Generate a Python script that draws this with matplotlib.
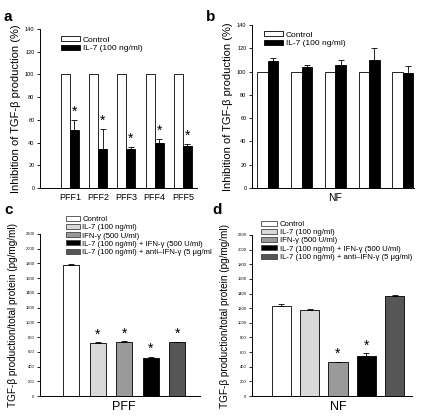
import matplotlib
matplotlib.use("Agg")
import matplotlib.pyplot as plt
from matplotlib.transforms import Bbox, TransformedBbox

plt.rcParams['font.family'] = ['Liberation Sans', 'DejaVu Sans']

# ---- data ----
a_groups = ["PFF1", "PFF2", "PFF3", "PFF4", "PFF5"]
a_control = [100, 100, 100, 100, 100]
a_il7 = [51, 34, 34, 40, 37]
a_il7_err = [9, 18, 2, 3, 2]

b_control = [100, 100, 100, 100, 100]
b_il7 = [109, 104, 106, 110, 99]
b_il7_err = [3, 2, 4, 10, 6]

ab_labels = ["Control", "IL-7 (100 ng/ml)"]

cd_labels = ["Control", "IL-7 (100 ng/ml)", "IFN-γ (500 U/ml)",
             "IL-7 (100 ng/ml) + IFN-γ (500 U/ml)",
             "IL-7 (100 ng/ml) + anti–IFN-γ (5 μg/ml)"]
c_values = [1780, 720, 740, 520, 730]
c_err = [6, 8, 6, 10, 10]
c_sig = [False, True, True, True, True]
d_values = [1230, 1175, 460, 550, 1370]
d_err = [30, 20, 6, 35, 10]
d_sig = [False, False, True, True, False]

cd_colors = ["white", "#d9d9d9", "#9a9a9a", "black", "#565656"]

W, H = 425, 416
fig = plt.figure(figsize=(W / 100, H / 100), dpi=100)


def ax_px(l, t, r, b):
    return fig.add_axes([l / W, 1 - b / H, (r - l) / W, (b - t) / H])


def style(ax, ymax, step, tfs):
    ax.spines['top'].set_visible(False)
    ax.spines['right'].set_visible(False)
    for s in ['left', 'bottom']:
        ax.spines[s].set_linewidth(0.7)
    ax.set_ylim(0, ymax)
    ax.set_yticks(range(0, ymax + 1, step))
    ax.tick_params(axis='y', labelsize=tfs, length=2.5, width=0.6, pad=1.5, direction='out')
    ax.tick_params(axis='x', length=0)


ylab_ab = "Inhibition of TGF-β production (%)"
ylab_cd = "TGF-β production/total protein (pg/mg/ml)"

leg_kw = dict(frameon=False, handleheight=0.6, labelspacing=0.12,
              borderpad=0, borderaxespad=0, handletextpad=0.3)

# ---- panel a ----
axa = ax_px(40, 29, 197, 188)
xa = list(range(len(a_groups)))
w = 0.32
axa.bar([x - w / 2 for x in xa], a_control, w, color='white', edgecolor='black', linewidth=0.6, label=ab_labels[0])
axa.bar([x + w / 2 for x in xa], a_il7, w, color='black', edgecolor='black', linewidth=0.6, label=ab_labels[1],
        yerr=[[0] * 5, a_il7_err], error_kw=dict(elinewidth=0.6, capsize=2, capthick=0.6, ecolor='black'))
for x, v, e in zip(xa, a_il7, a_il7_err):
    axa.text(x + w / 2, v + e + 1, "*", ha='center', va='bottom', fontsize=10)
axa.set_xlim(-1.06, 4.5)
axa.set_xticks(xa)
axa.set_xticklabels(a_groups, fontsize=6.5)
style(axa, 140, 20, 4)
axa.set_ylabel(ylab_ab, fontsize=8, labelpad=3)
axa.legend(loc='upper left', bbox_to_anchor=(61 / W, 1 - 36 / H), bbox_transform=fig.transFigure,
           handlelength=2.3, fontsize=6, **leg_kw)

# ---- panel b ----
axb = ax_px(252, 25, 414, 188)
wb = 0.31
axb.bar([x - wb / 2 for x in xa], b_control, wb, color='white', edgecolor='black', linewidth=0.6, label=ab_labels[0])
axb.bar([x + wb / 2 for x in xa], b_il7, wb, color='black', edgecolor='black', linewidth=0.6, label=ab_labels[1],
        yerr=[[0] * 5, b_il7_err], error_kw=dict(elinewidth=0.6, capsize=2, capthick=0.6, ecolor='black'))
axb.set_xlim(-0.47, 4.33)
axb.set_xticks([2])
axb.set_xticklabels(["NF"], fontsize=7.5)
style(axb, 140, 20, 4)
axb.set_ylabel(ylab_ab, fontsize=8, labelpad=3)
axb.legend(loc='upper left', bbox_to_anchor=(264 / W, 1 - 31 / H), bbox_transform=fig.transFigure,
           handlelength=2.3, fontsize=6, **leg_kw)


def panel_cd(ax, vals, errs, sig, wbar, xlim, xlabel, leg_xy, hl, clip_right=None):
    xs = list(range(len(vals)))
    for x, v, e, c, lab in zip(xs, vals, errs, cd_colors, cd_labels):
        ax.bar(x, v, wbar, color=c, edgecolor='black', linewidth=0.6, label=lab,
               yerr=[[0], [e]], error_kw=dict(elinewidth=0.6, capsize=2, capthick=0.6, ecolor='black'))
    for x, v, e, s in zip(xs, vals, errs, sig):
        if s:
            ax.text(x, v + e + 10, "*", ha='center', va='bottom', fontsize=10)
    ax.set_xlim(*xlim)
    ax.set_xticks([2])
    ax.set_xticklabels([xlabel], fontsize=9)
    style(ax, 2200, 200, 3)
    ax.set_ylabel(ylab_cd, fontsize=7.2)
    ax.yaxis.set_label_coords(-0.14, 0.5)
    leg = ax.legend(loc='upper left', bbox_to_anchor=(leg_xy[0] / W, 1 - leg_xy[1] / H),
                    bbox_transform=fig.transFigure, handlelength=hl, fontsize=5.6, **leg_kw)
    for p in leg.get_patches():
        p.set_edgecolor('#444444')
    if clip_right is not None:
        cb = TransformedBbox(Bbox.from_extents(0, 0, clip_right / W, 1), fig.transFigure)
        for t in leg.get_texts():
            t.set_clip_on(True)
            t.set_clip_box(cb)
    return ax


axc = ax_px(40, 234, 200, 396)
panel_cd(axc, c_values, c_err, c_sig, 0.6, (-1.17, 4.85), "PFF", (66, 216), 1.8, clip_right=212)
axd = ax_px(252, 235, 412, 396)
panel_cd(axd, d_values, d_err, d_sig, 0.67, (-1.02, 4.6), "NF", (261, 221), 2.1)

# panel letters
for s, x, y in [("a", 4, 21), ("b", 206, 21), ("c", 4, 214), ("d", 212, 214)]:
    fig.text(x / W, 1 - y / H, s, fontsize=11, fontweight='bold', ha='left', va='baseline')

fig.savefig("out.png", dpi=100)
